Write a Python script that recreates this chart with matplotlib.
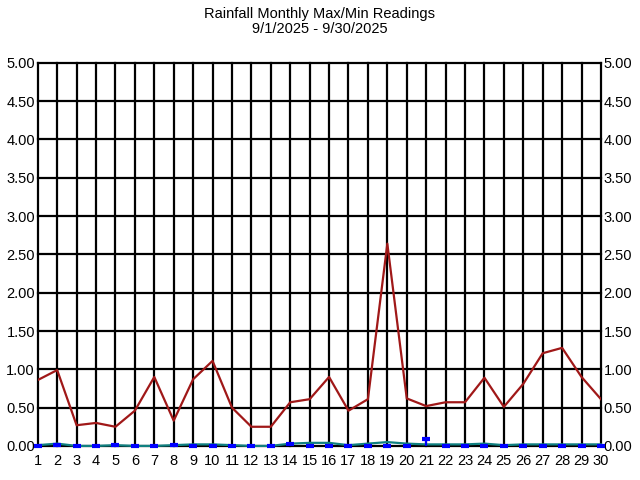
import matplotlib.pyplot as plt

plt.rcParams['font.family'] = ['Liberation Sans', 'DejaVu Sans']

days = list(range(1, 31))
# daily max (red)
max_vals = [0.86, 0.99, 0.27, 0.30, 0.25, 0.46, 0.90, 0.33, 0.87, 1.11,
            0.50, 0.25, 0.25, 0.57, 0.61, 0.90, 0.46, 0.61, 2.64, 0.62,
            0.52, 0.57, 0.57, 0.89, 0.51, 0.81, 1.21, 1.28, 0.90, 0.61]
# average (teal)
avg_vals = [0.01, 0.03, 0.00, 0.00, 0.01, 0.00, 0.00, 0.01, 0.02, 0.02,
            0.01, 0.00, 0.00, 0.03, 0.04, 0.04, 0.01, 0.03, 0.05, 0.03,
            0.02, 0.02, 0.02, 0.03, 0.01, 0.02, 0.02, 0.02, 0.02, 0.02]
# daily min (blue)
min_vals = [0.00, 0.01, 0.00, 0.00, 0.01, 0.00, 0.00, 0.01, 0.00, 0.00,
            0.00, 0.00, 0.00, 0.02, 0.00, 0.00, 0.00, 0.00, 0.00, 0.00,
            0.09, 0.00, 0.00, 0.00, 0.00, 0.00, 0.00, 0.00, 0.00, 0.00]
yticks = [0, 0.5, 1, 1.5, 2, 2.5, 3, 3.5, 4, 4.5, 5]

fig = plt.figure(figsize=(6.4, 4.8), dpi=100)
ax = fig.add_axes([0.059, 0.071, 0.88, 0.798])

# grid
for d in days:
    ax.axvline(d, color='black', lw=1.6, zorder=1, clip_on=False)
for y in yticks:
    ax.axhline(y, color='black', lw=1.6, zorder=1, clip_on=False)

ax.plot(days, max_vals, color='#A01818', lw=1.6, zorder=3)
ax.plot(days, avg_vals, color='#108080', lw=1.6, zorder=4, clip_on=False)
ax.vlines(days, 0, min_vals, color='#0000FF', lw=1.5, zorder=5)
ax.plot(days, min_vals, color='#0000FF', ls='none', marker='_',
        markersize=6, mew=3, zorder=5, clip_on=False)

ax.set_xlim(1, 30)
ax.set_ylim(0, 5)
ax.set_xticks(days)
ax.set_xticklabels([str(d) for d in days])
ax.set_yticks(yticks)
ax.set_yticklabels(['%.2f' % y for y in yticks])
ax.tick_params(axis='both', length=0, labelsize=10.5)
ax.tick_params(axis='x', pad=6)
ax.tick_params(axis='y', right=True, labelright=True, pad=2)
for s in ax.spines.values():
    s.set_visible(False)

fig.text(0.5, 0.985, 'Rainfall Monthly Max/Min Readings\n9/1/2025 - 9/30/2025',
         ha='center', va='top', fontsize=10.5, linespacing=1.1)

fig.savefig('out.png', dpi=100)
